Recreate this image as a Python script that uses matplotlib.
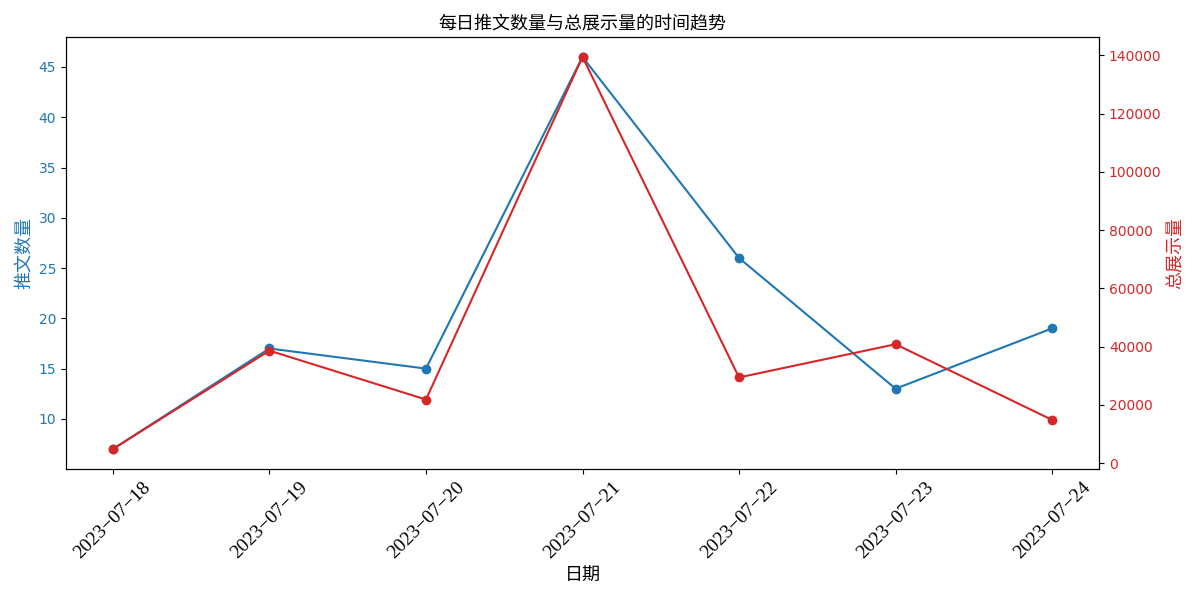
import matplotlib
matplotlib.use('Agg')
import matplotlib.pyplot as plt

plt.rcParams['font.family'] = ['Noto Sans CJK SC', 'DejaVu Sans']
plt.rcParams['axes.unicode_minus'] = False

dates = ['2023-07-18', '2023-07-19', '2023-07-20', '2023-07-21',
         '2023-07-22', '2023-07-23', '2023-07-24']
tweet_count = [7, 17, 15, 46, 26, 13, 19]
impressions = [4800, 38600, 21800, 139500, 29400, 40800, 14800]

blue = '#1f77b4'
red = '#d62728'

fig, ax1 = plt.subplots(figsize=(12, 6), dpi=100)
x = list(range(len(dates)))

ax1.plot(x, tweet_count, color=blue, marker='o')
ax1.set_xlabel('日期', fontsize=13)
ax1.set_ylabel('推文数量', color=blue, fontsize=13)
ax1.tick_params(axis='y', labelcolor=blue)

ax2 = ax1.twinx()
ax2.plot(x, impressions, color=red, marker='o')
ax2.set_ylabel('总展示量', color=red, fontsize=13)
ax2.tick_params(axis='y', labelcolor=red)

for lab in ax1.get_yticklabels() + ax2.get_yticklabels():
    lab.set_family('DejaVu Sans')

ax1.set_xticks(x)
ax1.set_xticklabels([d.replace('-', '\u2212') for d in dates], rotation=45,
                    family='Liberation Serif', fontsize=14)

ax1.set_title('每日推文数量与总展示量的时间趋势', fontsize=13)
fig.tight_layout()
fig.savefig('out.png')
